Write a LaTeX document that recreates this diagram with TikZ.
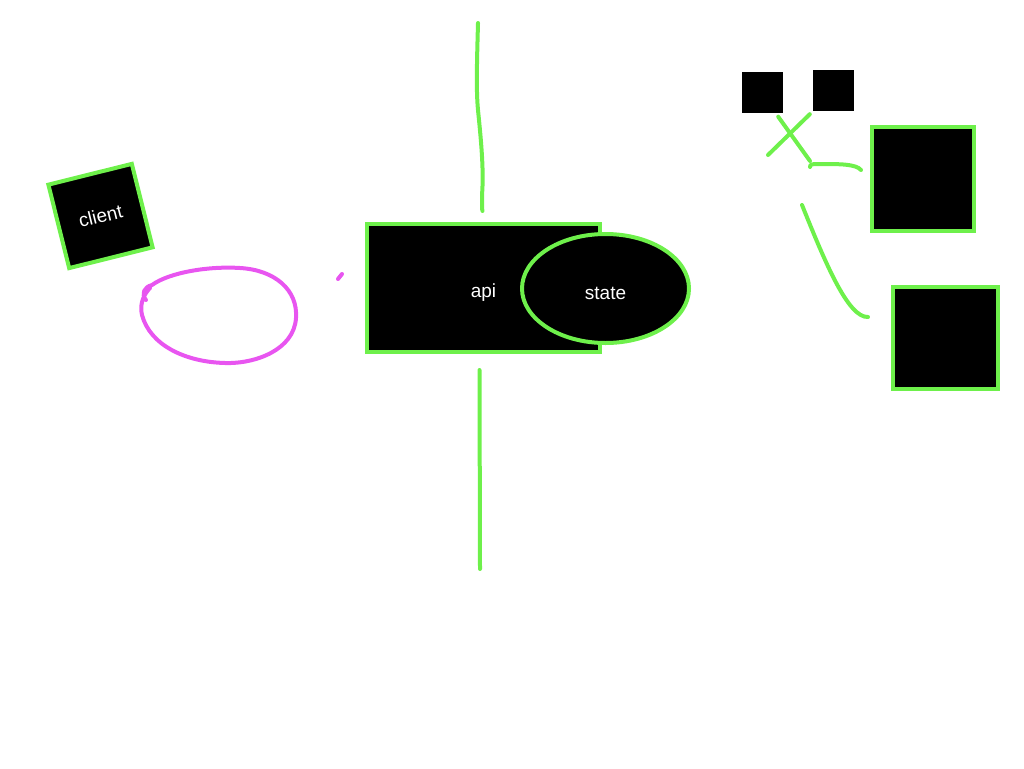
\documentclass[tikz,border=0pt]{standalone}
\usepackage{fontspec}
\setmainfont{Liberation Sans}
\usetikzlibrary{shapes.geometric}
\definecolor{lime}{RGB}{110,240,75}
\definecolor{pinkm}{RGB}{232,85,240}
\tikzset{
  box/.style={draw=lime, line width=4pt, fill=black, text=white, inner sep=0pt, font=\fontsize{19}{22}\selectfont},
  lbl/.style={text=white, inner sep=0pt, font=\fontsize{19}{22}\selectfont, yshift=-5pt},
  plainbox/.style={fill=black, inner sep=0pt},
  stroke/.style={draw=lime, line width=4pt, line cap=round, line join=round},
  pinkstroke/.style={draw=pinkm, line width=4pt, line cap=round, line join=round}
}
\begin{document}
\begin{tikzpicture}[x=1pt,y=-1pt]
\useasboundingbox (0,0) rectangle (1024,768);
% client
\node[box, minimum width=86pt, minimum height=86pt, rotate=14] (client) at (100.5,216) {client};
% magenta ellipse (hand drawn)
\draw[pinkstroke] (146,300) .. controls (141,294) and (144,287) .. (152,285)
  .. controls (170,272) and (210,266) .. (240,268)
  .. controls (275,270) and (298,290) .. (296,318)
  .. controls (294,350) and (255,364) .. (225,363)
  .. controls (185,362) and (150,345) .. (142,315)
  .. controls (139,303) and (145,293) .. (150,288);
\coordinate (pdA) at (338,279);
\coordinate (pdB) at (342,274);
\draw[pinkstroke] (pdA) -- (pdB);
% api and state
\node[box, minimum width=233pt, minimum height=128pt, label={[lbl]center:api}] (api) at (483.5,288) {};
\node[box, ellipse, minimum width=167pt, minimum height=109pt, label={[lbl]center:state}] (state) at (605.5,288.5) {};
% vertical lines
\coordinate (topend) at (478,23);
\draw[stroke] (topend) .. controls (477,60) and (476,90) .. (478,110)
  .. controls (481,140) and (484,170) .. (482,195) .. controls (482,205) and (482,210) .. ([xshift=-1pt,yshift=11pt]api.north);
\coordinate (botend) at (480,569);
\draw[stroke] ([xshift=-4pt,yshift=-16pt]api.south) -- (botend);
% top right squares
\node[plainbox, minimum width=41pt, minimum height=41pt] (s1) at (762.5,92) {};
\node[plainbox, minimum width=41pt, minimum height=41pt] (s2) at (833.5,90.5) {};
\node[box, minimum width=102pt, minimum height=104pt] (b1) at (923,179) {};
\node[box, minimum width=105pt, minimum height=102pt] (b2) at (945.5,338) {};
% connectors
\coordinate (x1) at (810,161);
\coordinate (x2) at (768,155);
\draw[stroke] ([xshift=-5pt,yshift=-4pt]s1.south east) -- (x1);
\draw[stroke] ([xshift=-3pt,yshift=-3pt]s2.south west) -- (x2);
\coordinate (c1) at (810,167);
\draw[stroke] (c1) .. controls (810,164) and (812,164) .. (820,164)
  .. controls (840,164) and (856,164) .. ([xshift=-9pt,yshift=9pt]b1.west);
\coordinate (c2) at (802,205);
\draw[stroke] (c2) .. controls (825,262) and (848,318) .. ([xshift=-23pt,yshift=21pt]b2.west);
\end{tikzpicture}
\end{document}
